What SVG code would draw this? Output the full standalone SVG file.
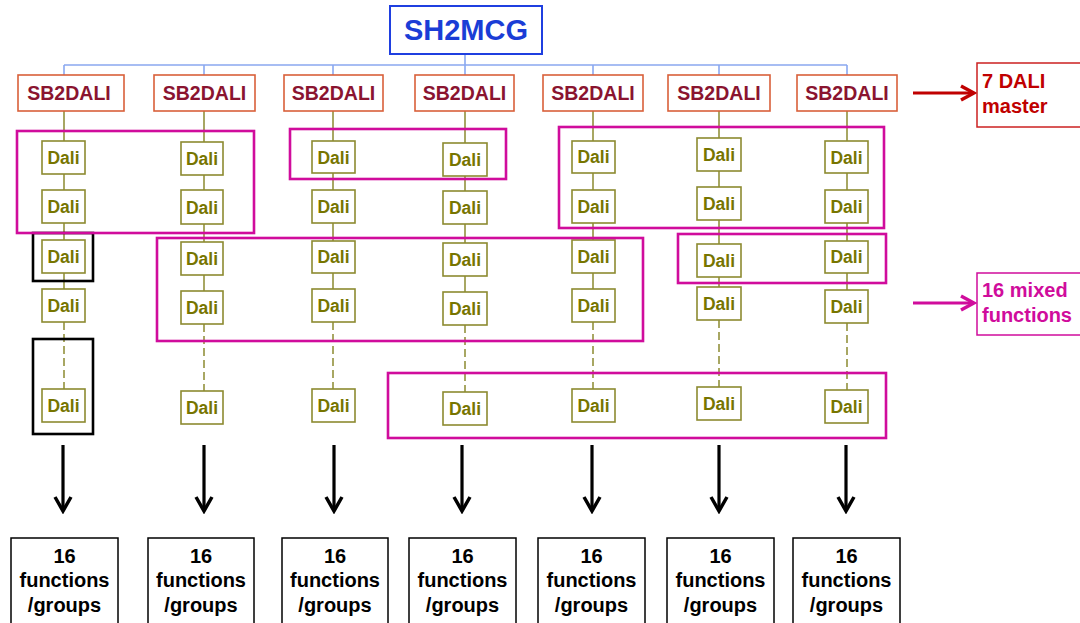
<svg xmlns="http://www.w3.org/2000/svg" width="1080" height="623" viewBox="0 0 1080 623">
<style>
text{font-family:"Liberation Sans",Arial,sans-serif;font-weight:bold;text-anchor:middle}
.top{fill:#fff;stroke:#1f3fe0;stroke-width:2}
.topt{fill:#1a3dd6;font-size:29px}
.sb{fill:#fff;stroke:#d9603a;stroke-width:1.6}
.sbt{fill:#8a1430;font-size:19.5px}
.d{fill:#fff;stroke:#8c8a30;stroke-width:1.6}
.dt{fill:#777500;font-size:17.5px}
.bus{stroke:#8aa8f0;stroke-width:1.6;fill:none}
.ol{stroke:#8c8a30;stroke-width:1.5;fill:none}
.da{stroke-dasharray:8 4}
.grp{fill:none;stroke:#d00c9c;stroke-width:2.6}
.blk{fill:none;stroke:#000;stroke-width:2.6}
.arr{stroke:#000;stroke-width:3.2;fill:none}
.out{fill:#fff;stroke:#000;stroke-width:1.5}
.outt{fill:#000;font-size:20px}
.lab{text-anchor:start;font-size:20px}
</style>
<defs>
<marker id="ahk" markerUnits="userSpaceOnUse" viewBox="0 0 20 20" refX="17" refY="10" markerWidth="20" markerHeight="20" orient="auto"><path d="M3,2 L17,10 L3,18" fill="none" stroke="#000" stroke-width="3.5"/></marker>
<marker id="ahr" markerUnits="userSpaceOnUse" viewBox="0 0 20 20" refX="17" refY="10" markerWidth="20" markerHeight="20" orient="auto"><path d="M4,3 L17,10 L4,17" fill="none" stroke="#c00000" stroke-width="3.5"/></marker>
<marker id="ahm" markerUnits="userSpaceOnUse" viewBox="0 0 20 20" refX="17" refY="10" markerWidth="20" markerHeight="20" orient="auto"><path d="M4,3 L17,10 L4,17" fill="none" stroke="#d00c9c" stroke-width="3.5"/></marker>
</defs>

<g id="connectors">
<path class="bus" d="M465,54V65 M64,65H847 M64,65V75 M204,65V75 M333,65V75 M465,65V75 M593,65V75 M719,65V75 M847,65V75"/>
<path class="ol" d="M64,111V310 M204,111V312 M333,111V310 M465,111V313 M593,111V310 M719,111V308 M847,111V311"/>
<path class="ol da" d="M64,322V389 M204,324V391 M333,322V389 M465,325V392 M593,322V389 M719,320V387 M847,323V390"/>
<line class="arr" x1="63" y1="445" x2="63" y2="511" marker-end="url(#ahk)"/>
<line class="arr" x1="204" y1="445" x2="204" y2="511" marker-end="url(#ahk)"/>
<line class="arr" x1="334" y1="445" x2="334" y2="511" marker-end="url(#ahk)"/>
<line class="arr" x1="462" y1="445" x2="462" y2="511" marker-end="url(#ahk)"/>
<line class="arr" x1="592" y1="445" x2="592" y2="511" marker-end="url(#ahk)"/>
<line class="arr" x1="719" y1="445" x2="719" y2="511" marker-end="url(#ahk)"/>
<line class="arr" x1="846" y1="445" x2="846" y2="511" marker-end="url(#ahk)"/>
<line x1="913" y1="93" x2="974" y2="93" stroke="#c00000" stroke-width="3.2" marker-end="url(#ahr)"/>
<line x1="913" y1="303" x2="974" y2="303" stroke="#d00c9c" stroke-width="3.2" marker-end="url(#ahm)"/>
</g>

<g id="sh2mcg"><rect class="top" x="390" y="6" width="152" height="48"/><text class="topt" x="466" y="40">SH2MCG</text></g>

<g id="sb1"><rect class="sb" x="18" y="75" width="106" height="36"/><text class="sbt" x="69" y="100">SB2DALI</text></g>
<g id="sb2"><rect class="sb" x="154" y="75" width="101" height="36"/><text class="sbt" x="204.5" y="100">SB2DALI</text></g>
<g id="sb3"><rect class="sb" x="284" y="75" width="99" height="36"/><text class="sbt" x="333.5" y="100">SB2DALI</text></g>
<g id="sb4"><rect class="sb" x="415" y="75" width="99" height="36"/><text class="sbt" x="464.5" y="100">SB2DALI</text></g>
<g id="sb5"><rect class="sb" x="543" y="75" width="100" height="36"/><text class="sbt" x="593" y="100">SB2DALI</text></g>
<g id="sb6"><rect class="sb" x="668" y="75" width="102" height="36"/><text class="sbt" x="719" y="100">SB2DALI</text></g>
<g id="sb7"><rect class="sb" x="797" y="75" width="100" height="36"/><text class="sbt" x="847" y="100">SB2DALI</text></g>

<g id="c1-dali">
<g id="d1-1"><rect class="d" x="42" y="141" width="43" height="33"/><text class="dt" x="63.5" y="164">Dali</text></g>
<g id="d1-2"><rect class="d" x="42" y="190" width="43" height="33"/><text class="dt" x="63.5" y="213">Dali</text></g>
<g id="d1-3"><rect class="d" x="42" y="240" width="43" height="33"/><text class="dt" x="63.5" y="263">Dali</text></g>
<g id="d1-4"><rect class="d" x="42" y="289" width="43" height="33"/><text class="dt" x="63.5" y="312">Dali</text></g>
<g id="d1-5"><rect class="d" x="42" y="389" width="43" height="33"/><text class="dt" x="63.5" y="412">Dali</text></g>
</g>
<g id="c2-dali">
<g id="d2-1"><rect class="d" x="181" y="142" width="42" height="33"/><text class="dt" x="202" y="165">Dali</text></g>
<g id="d2-2"><rect class="d" x="181" y="190" width="42" height="34"/><text class="dt" x="202" y="214">Dali</text></g>
<g id="d2-3"><rect class="d" x="181" y="242" width="42" height="33"/><text class="dt" x="202" y="265">Dali</text></g>
<g id="d2-4"><rect class="d" x="181" y="291" width="42" height="33"/><text class="dt" x="202" y="314">Dali</text></g>
<g id="d2-5"><rect class="d" x="181" y="391" width="42" height="33"/><text class="dt" x="202" y="414">Dali</text></g>
</g>
<g id="c3-dali">
<g id="d3-1"><rect class="d" x="312" y="141" width="43" height="32"/><text class="dt" x="333.5" y="164">Dali</text></g>
<g id="d3-2"><rect class="d" x="312" y="190" width="43" height="33"/><text class="dt" x="333.5" y="213">Dali</text></g>
<g id="d3-3"><rect class="d" x="312" y="241" width="43" height="32"/><text class="dt" x="333.5" y="263">Dali</text></g>
<g id="d3-4"><rect class="d" x="312" y="289" width="43" height="33"/><text class="dt" x="333.5" y="312">Dali</text></g>
<g id="d3-5"><rect class="d" x="312" y="389" width="43" height="33"/><text class="dt" x="333.5" y="412">Dali</text></g>
</g>
<g id="c4-dali">
<g id="d4-1"><rect class="d" x="443" y="143" width="44" height="33"/><text class="dt" x="465" y="166">Dali</text></g>
<g id="d4-2"><rect class="d" x="443" y="191" width="44" height="33"/><text class="dt" x="465" y="214">Dali</text></g>
<g id="d4-3"><rect class="d" x="443" y="243" width="44" height="33"/><text class="dt" x="465" y="266">Dali</text></g>
<g id="d4-4"><rect class="d" x="443" y="292" width="44" height="33"/><text class="dt" x="465" y="315">Dali</text></g>
<g id="d4-5"><rect class="d" x="443" y="392" width="44" height="33"/><text class="dt" x="465" y="415">Dali</text></g>
</g>
<g id="c5-dali">
<g id="d5-1"><rect class="d" x="572" y="141" width="43" height="32"/><text class="dt" x="593.5" y="163">Dali</text></g>
<g id="d5-2"><rect class="d" x="572" y="190" width="43" height="33"/><text class="dt" x="593.5" y="213">Dali</text></g>
<g id="d5-3"><rect class="d" x="572" y="240" width="43" height="33"/><text class="dt" x="593.5" y="263">Dali</text></g>
<g id="d5-4"><rect class="d" x="572" y="289" width="43" height="33"/><text class="dt" x="593.5" y="312">Dali</text></g>
<g id="d5-5"><rect class="d" x="572" y="389" width="43" height="33"/><text class="dt" x="593.5" y="412">Dali</text></g>
</g>
<g id="c6-dali">
<g id="d6-1"><rect class="d" x="697" y="138" width="44" height="33"/><text class="dt" x="719" y="161">Dali</text></g>
<g id="d6-2"><rect class="d" x="697" y="187" width="44" height="33"/><text class="dt" x="719" y="210">Dali</text></g>
<g id="d6-3"><rect class="d" x="697" y="244" width="44" height="33"/><text class="dt" x="719" y="267">Dali</text></g>
<g id="d6-4"><rect class="d" x="697" y="287" width="44" height="33"/><text class="dt" x="719" y="310">Dali</text></g>
<g id="d6-5"><rect class="d" x="697" y="387" width="44" height="33"/><text class="dt" x="719" y="410">Dali</text></g>
</g>
<g id="c7-dali">
<g id="d7-1"><rect class="d" x="825" y="141" width="43" height="32"/><text class="dt" x="846.5" y="164">Dali</text></g>
<g id="d7-2"><rect class="d" x="825" y="190" width="43" height="33"/><text class="dt" x="846.5" y="213">Dali</text></g>
<g id="d7-3"><rect class="d" x="825" y="241" width="43" height="32"/><text class="dt" x="846.5" y="263">Dali</text></g>
<g id="d7-4"><rect class="d" x="825" y="290" width="43" height="33"/><text class="dt" x="846.5" y="313">Dali</text></g>
<g id="d7-5"><rect class="d" x="825" y="390" width="43" height="33"/><text class="dt" x="846.5" y="413">Dali</text></g>
</g>

<g id="black-groups">
<rect class="blk" x="33" y="233" width="60" height="48"/>
<rect class="blk" x="33" y="339" width="60" height="95"/>
</g>

<g id="mixed-groups">
<rect class="grp" x="17" y="131" width="237" height="102"/>
<rect class="grp" x="290" y="129" width="216" height="50"/>
<rect class="grp" x="559" y="127" width="325" height="101"/>
<rect class="grp" x="157" y="238" width="486" height="103"/>
<rect class="grp" x="678" y="234" width="208" height="49"/>
<rect class="grp" x="388" y="373" width="498" height="65"/>
</g>

<g id="outputs">
<g id="o1"><rect class="out" x="11" y="538" width="107" height="95"/><text class="outt" x="64.5" y="563">16</text><text class="outt" x="64.5" y="587">functions</text><text class="outt" x="64.5" y="612">/groups</text></g>
<g id="o2"><rect class="out" x="148" y="538" width="106" height="95"/><text class="outt" x="201" y="563">16</text><text class="outt" x="201" y="587">functions</text><text class="outt" x="201" y="612">/groups</text></g>
<g id="o3"><rect class="out" x="282" y="538" width="106" height="95"/><text class="outt" x="335" y="563">16</text><text class="outt" x="335" y="587">functions</text><text class="outt" x="335" y="612">/groups</text></g>
<g id="o4"><rect class="out" x="409" y="538" width="107" height="95"/><text class="outt" x="462.5" y="563">16</text><text class="outt" x="462.5" y="587">functions</text><text class="outt" x="462.5" y="612">/groups</text></g>
<g id="o5"><rect class="out" x="538" y="538" width="107" height="95"/><text class="outt" x="591.5" y="563">16</text><text class="outt" x="591.5" y="587">functions</text><text class="outt" x="591.5" y="612">/groups</text></g>
<g id="o6"><rect class="out" x="667" y="538" width="107" height="95"/><text class="outt" x="720.5" y="563">16</text><text class="outt" x="720.5" y="587">functions</text><text class="outt" x="720.5" y="612">/groups</text></g>
<g id="o7"><rect class="out" x="793" y="538" width="107" height="95"/><text class="outt" x="846.5" y="563">16</text><text class="outt" x="846.5" y="587">functions</text><text class="outt" x="846.5" y="612">/groups</text></g>
</g>

<g id="label-master"><rect x="977" y="63" width="110" height="64" fill="#fff" stroke="#cc2020" stroke-width="1.5"/><text class="lab" x="982" y="88" fill="#c00000">7 DALI</text><text class="lab" x="982" y="113" fill="#c00000">master</text></g>
<g id="label-mixed"><rect x="977" y="273" width="110" height="62" fill="#fff" stroke="#d00c9c" stroke-width="1.5"/><text class="lab" x="982" y="297" fill="#d00c9c">16 mixed</text><text class="lab" x="982" y="322" fill="#d00c9c">functions</text></g>
</svg>
